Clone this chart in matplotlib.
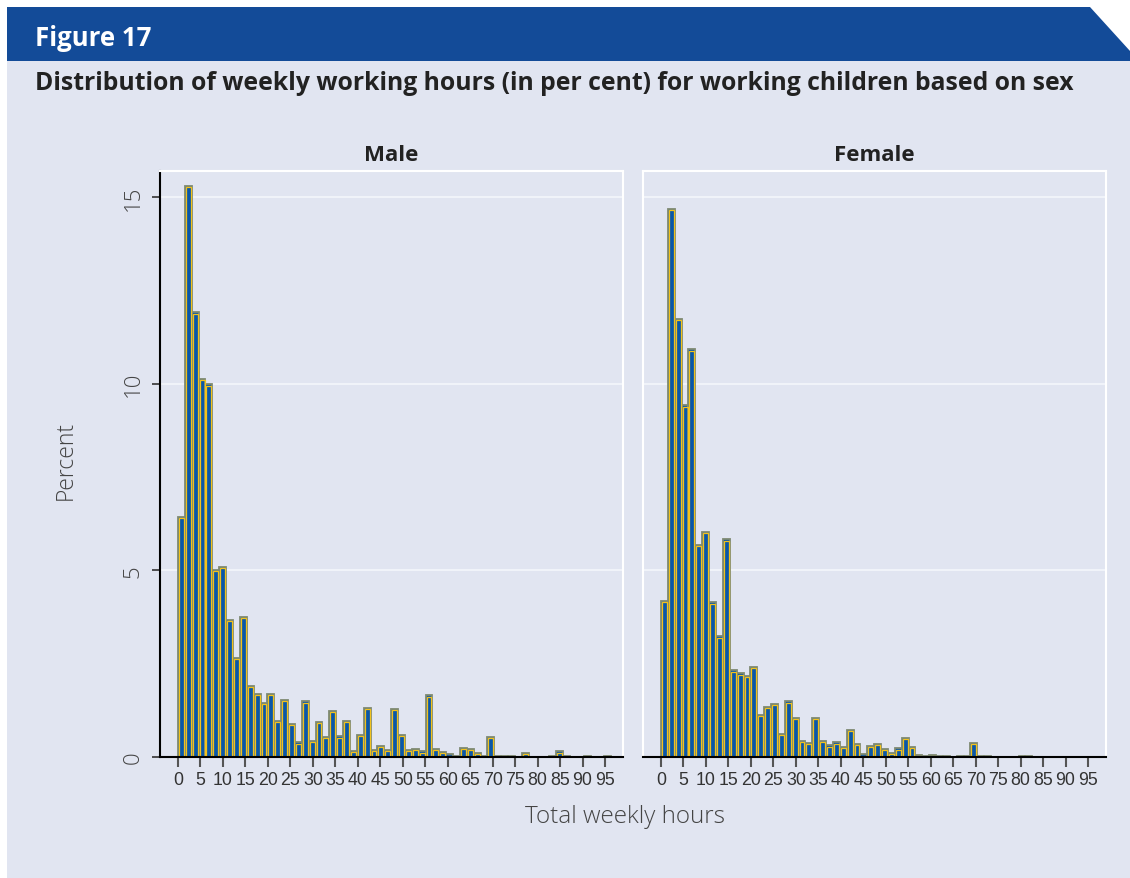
import matplotlib
matplotlib.use("Agg")
import matplotlib.pyplot as plt
from matplotlib.patches import Polygon, Rectangle
import numpy as np

# ---------------- data ----------------
bin_width = 1.53
male_pct = [6.44, 15.30, 11.91, 10.13, 9.98, 5.02, 5.09, 3.67, 2.66, 3.75,
            1.90, 1.68, 1.44, 1.68, 0.96, 1.52, 0.88, 0.39, 1.49, 0.42,
            0.93, 0.53, 1.23, 0.55, 0.96, 0.17, 0.58, 1.31, 0.18, 0.29,
            0.18, 1.29, 0.58, 0.18, 0.21, 0.15, 1.65, 0.21, 0.13, 0.07,
            0.02, 0.24, 0.21, 0.10, 0.03, 0.53, 0.04, 0.04, 0.02, 0.00,
            0.10, 0.00, 0.00, 0.00, 0.03, 0.15, 0.02, 0.00, 0.00, 0.02,
            0.00, 0.00, 0.02, 0.00]
female_pct = [4.17, 14.68, 11.74, 9.42, 10.92, 5.67, 6.04, 4.14, 3.23, 5.83,
              2.32, 2.24, 2.18, 2.42, 1.12, 1.35, 1.42, 0.62, 1.49, 1.04,
              0.44, 0.37, 1.04, 0.42, 0.31, 0.39, 0.28, 0.72, 0.34, 0.07,
              0.29, 0.34, 0.21, 0.11, 0.23, 0.50, 0.26, 0.05, 0.04, 0.06,
              0.03, 0.04, 0.00, 0.02, 0.04, 0.37, 0.02, 0.02, 0.00, 0.00,
              0.00, 0.00, 0.03, 0.03, 0.00, 0.00, 0.00, 0.00, 0.00, 0.00,
              0.00, 0.00, 0.00, 0.00]
panel_titles = ["Male", "Female"]
x_ticks = list(range(0, 100, 5))
y_ticks = [0, 5, 10, 15]
fig_label = "Figure 17"
title = "Distribution of weekly working hours (in per cent) for working children based on sex"
x_label = "Total weekly hours"
y_label = "Percent"

# ---------------- style ----------------
W, H = 1130, 879
BG = "#e1e5f1"
BAND = "#134b98"
BAR_BLUE = "#0a57a8"
BAR_OUT = "#7f8a72"
BAR_IN = "#f2c21d"

fig = plt.figure(figsize=(W / 100, H / 100), dpi=100)
fig.patch.set_facecolor("white")

def px(x, y):
    return (x / W, 1 - y / H)

# lavender panel
fig.patches.append(Rectangle(px(7, 879), (W - 7) / W, (879 - 55) / H,
                             transform=fig.transFigure, facecolor=BG,
                             edgecolor="none", zorder=-3))
# blue header band with diagonal cut
band = [px(7, 8), px(1090, 8), px(1130, 52), px(1130, 62), px(7, 62)]
fig.patches.append(Polygon(band, closed=True, transform=fig.transFigure,
                           facecolor=BAND, edgecolor="none", zorder=-2))

fig.text(*px(35, 38), fig_label, color="white", fontsize=18.5,
         fontweight="bold", family="Open Sans", va="center", ha="left")
fig.text(*px(35, 83), title, color="#222222", fontsize=17.8,
         fontweight="bold", family="Open Sans", va="center", ha="left")

series = [male_pct, female_pct]
lefts = [160, 643]
ax_w = 623 - 160
top_px, bot_px = 172, 758

for i, (vals, name) in enumerate(zip(series, panel_titles)):
    ax = fig.add_axes([lefts[i] / W, (H - bot_px) / H, ax_w / W,
                       (bot_px - top_px) / H])
    ax.set_zorder(2)
    ax.set_facecolor(BG)
    vals = np.asarray(vals)
    edges = np.arange(len(vals)) * bin_width
    ax.set_xlim(-4.0, 99.0)
    ax.set_ylim(0, 15.7)
    for y in y_ticks[1:]:
        ax.axhline(y, color="#f4f6fb", lw=1.2, zorder=1)
    ax.bar(edges, vals, width=bin_width, align="edge", color=BAR_BLUE,
           edgecolor=BAR_OUT, linewidth=1.3, zorder=2)
    inset = 0.22
    ax.bar(edges + inset, np.clip(vals - 0.03, 0, None), width=bin_width - 2 * inset,
           align="edge", fill=False, edgecolor=BAR_IN, linewidth=0.9, zorder=3)
    ax.set_xticks(x_ticks)
    ax.set_xticklabels([str(t) for t in x_ticks], fontsize=12.8,
                       family="Liberation Sans", color="#333333")
    ax.tick_params(axis="x", length=7, width=1.5, color="#555555", pad=3)
    for s in ["top", "right"]:
        ax.spines[s].set_color("white")
        ax.spines[s].set_linewidth(1.5)
    ax.spines["bottom"].set_color("black")
    ax.spines["bottom"].set_linewidth(1.5)
    ax.spines["bottom"].set_zorder(5)
    ax.set_title(name, fontsize=16, fontweight="bold", family="Open Sans",
                 color="#222222", pad=8)
    if i == 0:
        ax.spines["left"].set_color("black")
        ax.spines["left"].set_linewidth(1.5)
        ax.set_yticks(y_ticks)
        ax.set_yticklabels([str(t) for t in y_ticks], rotation=90,
                           va="center", fontsize=16, fontweight="light",
                           family="Open Sans", color="#444444")
        ax.tick_params(axis="y", length=6, width=1.2, color="#333333", pad=6)
    else:
        ax.spines["left"].set_color("white")
        ax.spines["left"].set_linewidth(1.5)
        ax.set_yticks(y_ticks)
        ax.set_yticklabels([])
        ax.tick_params(axis="y", length=0)

fig.text(*px(66, 460), y_label, rotation=90, fontsize=16.5, fontweight="light",
         family="Open Sans", color="#444444", va="center", ha="center")
fig.text(*px(625, 817), x_label, fontsize=17.5, fontweight="light",
         family="Open Sans", color="#444444", va="center", ha="center")

fig.savefig("out.png", dpi=100, facecolor=fig.get_facecolor())
